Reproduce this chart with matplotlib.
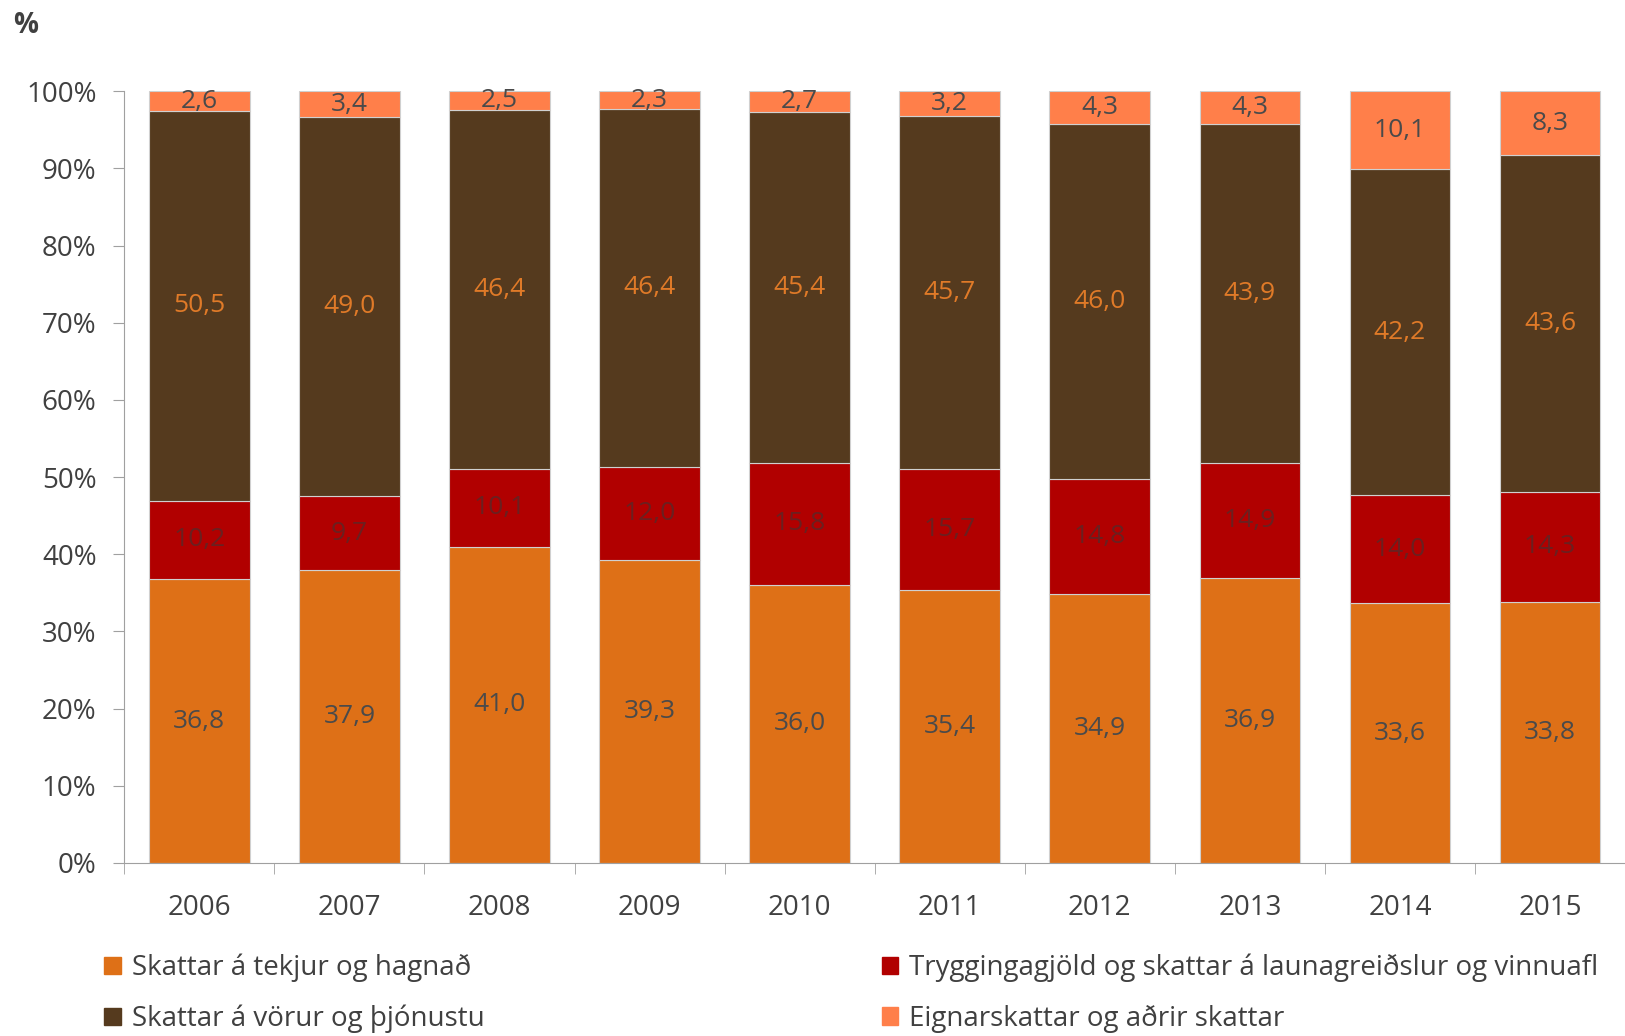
import numpy as np
import matplotlib.pyplot as plt
from matplotlib.patches import Patch

plt.rcParams['font.family'] = ['Open Sans', 'DejaVu Sans']

#~~~~~~Data~~~~~~
years = ['2006', '2007', '2008', '2009', '2010', '2011', '2012', '2013', '2014', '2015']
income  = [36.8, 37.9, 41.0, 39.3, 36.0, 35.4, 34.9, 36.9, 33.6, 33.8]  # Skattar á tekjur og hagnað
payroll = [10.2, 9.7, 10.1, 12.0, 15.8, 15.7, 14.8, 14.9, 14.0, 14.3]   # Tryggingagjöld ...
goods   = [50.5, 49.0, 46.4, 46.4, 45.4, 45.7, 46.0, 43.9, 42.2, 43.6]  # Skattar á vörur og þjónustu
other   = [2.6, 3.4, 2.5, 2.3, 2.7, 3.2, 4.3, 4.3, 10.1, 8.3]          # Eignarskattar og aðrir skattar

names = ['Skattar á tekjur og hagnað',
         'Tryggingagjöld og skattar á launagreiðslur og vinnuafl',
         'Skattar á vörur og þjónustu',
         'Eignarskattar og aðrir skattar']
colors = ['#DE7017', '#B10000', '#553A1E', '#FF7F4A']
label_colors = ['#4a4a4a', '#6a2020', '#E07A28', '#4a4a4a']

#~~~~~~Figure~~~~~~
fig = plt.figure(figsize=(16.25, 10.36), dpi=100)
ax = fig.add_axes([0.0765, 0.167, 0.9235, 0.745])

series = [income, payroll, goods, other]
total = np.sum(series, axis=0)
x = np.arange(len(years))
bottom = np.zeros(len(years))
for vals, c, lc in zip(series, colors, label_colors):
    vals = np.array(vals)
    h = vals / total * 100
    ax.bar(x, h, bottom=bottom, width=0.67, color=c, edgecolor='#d0d0d0', linewidth=0.8)
    for xi, b, hi, v in zip(x, bottom, h, vals):
        ax.text(xi, b + hi / 2, f'{v:.1f}'.replace('.', ','), ha='center', va='center',
                fontsize=19, color=lc)
    bottom += h

ax.set_xlim(-0.5, len(years) - 0.5)
ax.set_ylim(0, 100)
ax.set_yticks(np.arange(0, 101, 10))
ax.set_yticklabels([f'{v}%' for v in range(0, 101, 10)])
ax.set_xticks(x)
ax.set_xticklabels(years)
ax.set_xticks(np.arange(-0.5, len(years), 1), minor=True)
ax.tick_params(axis='x', which='major', length=0, pad=22, labelsize=20, labelcolor='#404040')
ax.tick_params(axis='x', which='minor', length=8, color='#a0a0a0', direction='out')
ax.tick_params(axis='y', length=8, color='#a0a0a0', labelsize=20, labelcolor='#404040', pad=12)
for s in ['top', 'right']:
    ax.spines[s].set_visible(False)
for s in ['left', 'bottom']:
    ax.spines[s].set_color('#a0a0a0')

fig.text(0.008, 0.975, '%', fontsize=20, color='#404040', fontweight='bold', va='center')

handles = [Patch(color=colors[0]), Patch(color=colors[2]), Patch(color=colors[1]), Patch(color=colors[3])]
labels = [names[0], names[2], names[1], names[3]]
fig.legend(handles, labels, loc='upper left', bbox_to_anchor=(0.052, 0.098), ncol=2,
           frameon=False, fontsize=20, labelcolor='#404040', handlelength=0.6, handleheight=0.6,
           handletextpad=0.4, columnspacing=14.3, labelspacing=0.8, borderpad=0.2)

fig.savefig('out.png', dpi=100)
